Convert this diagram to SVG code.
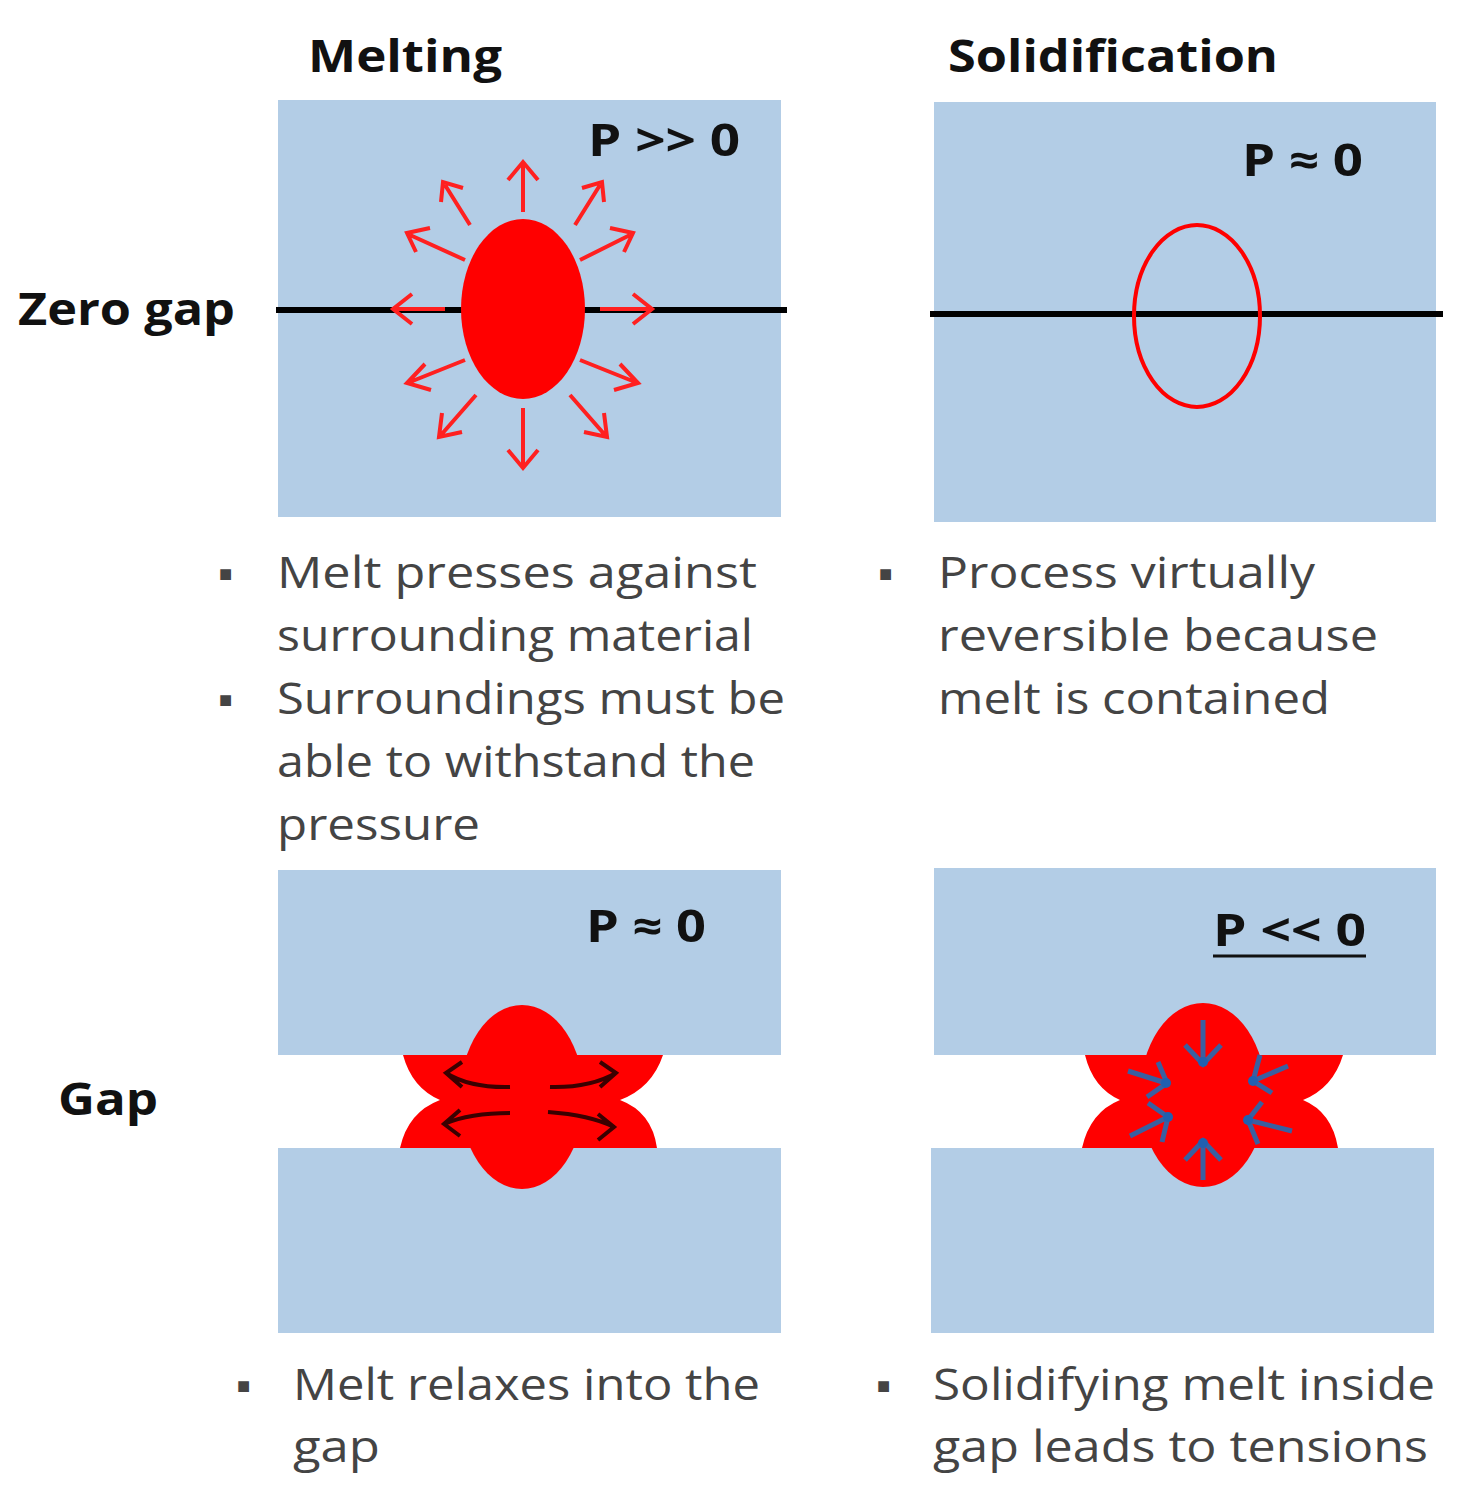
<svg xmlns="http://www.w3.org/2000/svg" width="1463" height="1504" viewBox="0 0 1463 1504">
<defs>
<style>
.bg{fill:#b3cde6}
.h{font-family:"Open Sans","Liberation Sans",sans-serif;font-weight:bold;font-size:44px;fill:#111}
.t{font-family:"Open Sans","Liberation Sans",sans-serif;font-size:43px;fill:#444}
.ra{stroke:#ff2020;stroke-width:4;fill:none}
.ka{stroke:#3a0000;stroke-width:4;fill:none}
.ba{stroke:#3a5fa0;stroke-width:5;fill:none}
</style>
</defs>
<rect width="1463" height="1504" fill="#fff"/>
<text class="h" x="308" y="72" textLength="194" lengthAdjust="spacingAndGlyphs">Melting</text>
<text class="h" x="948" y="72" textLength="330" lengthAdjust="spacingAndGlyphs">Solidification</text>
<text class="h" x="18" y="325" textLength="217" lengthAdjust="spacingAndGlyphs">Zero gap</text>
<text class="h" x="58" y="1115" textLength="100" lengthAdjust="spacingAndGlyphs">Gap</text>

<g id="zero-melt">
<rect class="bg" x="278" y="100" width="503" height="417"/>
<line x1="276" y1="310" x2="787" y2="310" stroke="#000" stroke-width="6"/>
<ellipse cx="523" cy="309" rx="62" ry="90" fill="#ff0000"/>
<text class="h" x="588" y="156" textLength="152" lengthAdjust="spacingAndGlyphs">P &gt;&gt; 0</text>
<g class="ra">
<path d="M523 212V165 M508 180L523 162L538 180"/>
<path d="M523 408V465 M508 450L523 468L538 450"/>
<path d="M445 309H395 M412 294L393 309L412 324"/>
<path d="M600 309H650 M633 294L652 309L633 324"/>
<path d="M575 225L600 185 M582 188L602 182L604 202"/>
<path d="M470 225L445 185 M463 188L443 182L441 202"/>
<path d="M580 260L630 235 M610 228L633 233L624 252"/>
<path d="M465 260L410 235 M430 228L407 233L416 252"/>
<path d="M580 360L635 382 M620 364L638 383L614 390"/>
<path d="M465 360L410 382 M425 364L407 383L431 390"/>
<path d="M570 395L605 435 M584 432L607 437L604 413"/>
<path d="M476 395L441 435 M462 432L439 437L442 413"/>
</g>
</g>

<g id="zero-solid">
<rect class="bg" x="934" y="102" width="502" height="420"/>
<line x1="930" y1="314" x2="1443" y2="314" stroke="#000" stroke-width="6"/>
<ellipse cx="1197" cy="316" rx="63" ry="91" fill="none" stroke="#ff0000" stroke-width="4"/>
<text class="h" x="1242" y="176" textLength="121" lengthAdjust="spacingAndGlyphs">P ≈ 0</text>
</g>

<g id="text-top-left">
<text class="t" x="218" y="588">▪</text>
<text class="t" x="277" y="588" textLength="480" lengthAdjust="spacingAndGlyphs">Melt presses against</text>
<text class="t" x="277" y="651" textLength="476" lengthAdjust="spacingAndGlyphs">surrounding material</text>
<text class="t" x="218" y="714">▪</text>
<text class="t" x="277" y="714" textLength="508" lengthAdjust="spacingAndGlyphs">Surroundings must be</text>
<text class="t" x="277" y="777" textLength="478" lengthAdjust="spacingAndGlyphs">able to withstand the</text>
<text class="t" x="277" y="840" textLength="203" lengthAdjust="spacingAndGlyphs">pressure</text>
</g>
<g id="text-top-right">
<text class="t" x="878" y="588">▪</text>
<text class="t" x="938" y="588" textLength="377" lengthAdjust="spacingAndGlyphs">Process virtually</text>
<text class="t" x="938" y="651" textLength="440" lengthAdjust="spacingAndGlyphs">reversible because</text>
<text class="t" x="938" y="714" textLength="392" lengthAdjust="spacingAndGlyphs">melt is contained</text>
</g>

<g id="gap-melt">
<rect class="bg" x="278" y="870" width="503" height="185"/>
<rect class="bg" x="278" y="1148" width="503" height="185"/>
<text class="h" x="586" y="942" textLength="120" lengthAdjust="spacingAndGlyphs">P ≈ 0</text>
<path d="M403 1055 L663 1055 Q652 1088 620 1100 Q652 1112 657 1148 L400 1148 Q408 1112 440 1100 Q412 1088 403 1055Z" fill="#ff0000"/>
<ellipse cx="522" cy="1097" rx="62" ry="92" fill="#ff0000"/>
<g class="ka">
<path d="M510 1087 Q470 1088 446 1073 M462 1062L446 1073L462 1087"/>
<path d="M550 1087 Q590 1088 616 1073 M600 1062L616 1073L600 1087"/>
<path d="M510 1113 Q470 1113 444 1124 M460 1110L444 1124L460 1136"/>
<path d="M548 1112 Q590 1115 614 1127 M598 1114L614 1127L598 1140"/>
</g>
</g>

<g id="gap-solid">
<rect class="bg" x="934" y="868" width="502" height="187"/>
<rect class="bg" x="931" y="1148" width="503" height="185"/>
<text class="h" x="1213" y="946" textLength="153" lengthAdjust="spacingAndGlyphs">P &lt;&lt; 0</text>
<line x1="1213" y1="956" x2="1366" y2="956" stroke="#111" stroke-width="3"/>
<path d="M1085 1055 L1343 1055 Q1333 1088 1303 1100 Q1332 1112 1338 1148 L1082 1148 Q1090 1112 1120 1100 Q1093 1088 1085 1055Z" fill="#ff0000"/>
<ellipse cx="1203" cy="1095" rx="63" ry="92" fill="#ff0000"/>
<g class="ba">
<path d="M1203 1020V1062 M1185 1045L1203 1064L1221 1045"/>
<path d="M1203 1180V1143 M1185 1160L1203 1141L1221 1160"/>
<path d="M1128 1071L1166 1083 M1158 1062L1167 1083L1147 1097"/>
<path d="M1130 1136L1168 1117 M1148 1103L1168 1117L1162 1142"/>
<path d="M1288 1066L1253 1081 M1260 1055L1253 1081L1272 1093"/>
<path d="M1292 1131L1248 1120 M1262 1102L1248 1120L1258 1144"/>
</g>
<g fill="#2060b0">
<circle cx="1203" cy="1062" r="5"/><circle cx="1203" cy="1143" r="5"/>
<circle cx="1166" cy="1083" r="5"/><circle cx="1168" cy="1117" r="5"/>
<circle cx="1253" cy="1081" r="5"/><circle cx="1248" cy="1120" r="5"/>
</g>
</g>

<g id="text-bottom">
<text class="t" x="236" y="1400">▪</text>
<text class="t" x="293" y="1400" textLength="467" lengthAdjust="spacingAndGlyphs">Melt relaxes into the</text>
<text class="t" x="293" y="1462" textLength="87" lengthAdjust="spacingAndGlyphs">gap</text>
<text class="t" x="876" y="1400">▪</text>
<text class="t" x="933" y="1400" textLength="502" lengthAdjust="spacingAndGlyphs">Solidifying melt inside</text>
<text class="t" x="933" y="1462" textLength="495" lengthAdjust="spacingAndGlyphs">gap leads to tensions</text>
</g>
</svg>
